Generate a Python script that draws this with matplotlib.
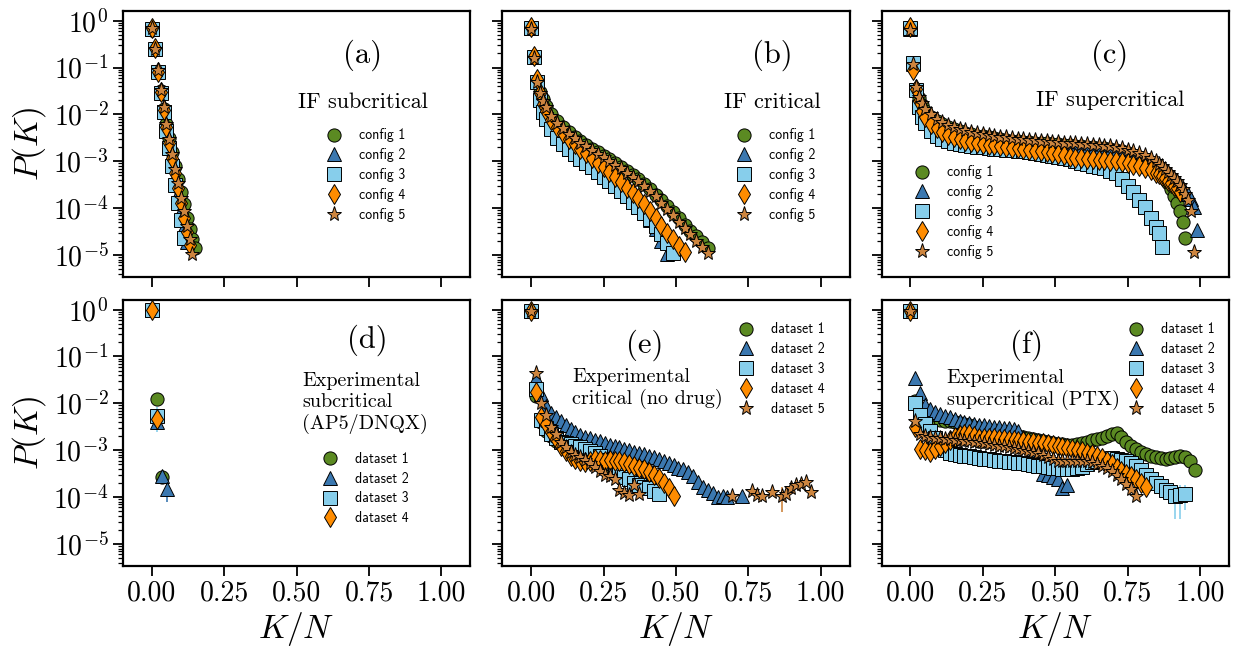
import numpy as np
import matplotlib
matplotlib.use("Agg")
import matplotlib.pyplot as plt
from matplotlib.ticker import LogLocator, FormatStrFormatter

plt.rcParams["font.family"] = "serif"
plt.rcParams["font.serif"] = ["cmr10"]
plt.rcParams["mathtext.fontset"] = "cm"
plt.rcParams["axes.formatter.use_mathtext"] = True

# dados (log10 de P(K))

# (a) IF subcritico
xa = [0.00, 0.01, 0.02, 0.03, 0.04, 0.05, 0.06, 0.07, 0.08, 0.09, 0.10, 0.11, 0.12, 0.13, 0.14, 0.15]
a1 = [-0.19, -0.60, -1.10, -1.50, -1.88, -2.20, -2.50, -2.80, -3.10, -3.38, -3.65, -3.92, -4.20, -4.45, -4.65, -4.85]
a2 = [-0.17, -0.60, -1.08, -1.50, -1.90, -2.28, -2.65, -3.00, -3.35, -3.70, -4.05, -4.40, -4.72]
a3 = [-0.18, -0.60, -1.10, -1.55, -1.95, -2.35, -2.72, -3.10, -3.50, -3.88, -4.25, -4.64]
a4 = [-0.16, -0.58, -1.10, -1.52, -1.90, -2.26, -2.60, -2.93, -3.25, -3.56, -3.88, -4.20, -4.50, -4.79]
a5 = [-0.16, -0.60, -1.05, -1.48, -1.85, -2.20, -2.52, -2.85, -3.17, -3.47, -3.78, -4.07, -4.38, -4.66, -4.97]

# (b) IF critico
xb = [0.00, 0.01, 0.02, 0.03, 0.04, 0.05,
      0.07, 0.09, 0.11, 0.13, 0.15, 0.17, 0.19, 0.21, 0.23, 0.25,
      0.27, 0.29, 0.31, 0.33, 0.35, 0.37, 0.39, 0.41, 0.43, 0.45,
      0.47, 0.49, 0.51, 0.53, 0.55, 0.57, 0.59, 0.61]
b1 = [-0.16, -0.78, -1.28, -1.52, -1.68, -1.82,
      -2.00, -2.15, -2.27, -2.38, -2.48, -2.57, -2.65, -2.73, -2.81, -2.88,
      -2.96, -3.04, -3.12, -3.20, -3.29, -3.38, -3.48, -3.59, -3.71, -3.83,
      -3.96, -4.09, -4.22, -4.36, -4.48, -4.60, -4.72, -4.84]
b2 = [-0.15, -0.76, -1.27, -1.66, -1.92, -2.08,
      -2.30, -2.48, -2.61, -2.73, -2.84, -2.94, -3.03, -3.12, -3.22, -3.32,
      -3.42, -3.52, -3.63, -3.74, -3.86, -3.98, -4.11, -4.25, -4.45, -4.70,
      -4.98]
b3 = [-0.16, -0.78, -1.30, -1.70, -1.95, -2.10,
      -2.32, -2.50, -2.63, -2.74, -2.85, -2.95, -3.04, -3.13, -3.23, -3.33,
      -3.43, -3.53, -3.64, -3.75, -3.86, -3.98, -4.10, -4.23, -4.38, -4.55,
      -4.75, -4.95]
b4 = [-0.14, -0.75, -1.25, -1.55, -1.78, -1.93,
      -2.12, -2.27, -2.40, -2.52, -2.63, -2.73, -2.83, -2.93, -3.03, -3.13,
      -3.23, -3.34, -3.45, -3.56, -3.67, -3.79, -3.91, -4.07, -4.22, -4.38,
      -4.54, -4.66, -4.80, -4.93]
b5 = [-0.18, -0.80, -1.30, -1.55, -1.71, -1.85,
      -2.03, -2.18, -2.30, -2.41, -2.51, -2.60, -2.68, -2.76, -2.84, -2.91,
      -2.99, -3.07, -3.15, -3.24, -3.33, -3.42, -3.52, -3.63, -3.75, -3.88,
      -4.01, -4.15, -4.29, -4.43, -4.56, -4.69, -4.82, -4.96]

# (c) IF supercritico
xc = [0.00, 0.01, 0.02, 0.03, 0.04, 0.05,
      0.07, 0.09, 0.11, 0.13, 0.15, 0.17, 0.19, 0.21, 0.23, 0.25,
      0.27, 0.29, 0.31, 0.33, 0.35, 0.37, 0.39, 0.41, 0.43, 0.45,
      0.47, 0.49, 0.51, 0.53, 0.55, 0.57, 0.59, 0.61, 0.63, 0.65,
      0.67, 0.69, 0.71, 0.73, 0.75, 0.77, 0.79, 0.81, 0.83, 0.85,
      0.86, 0.87, 0.88, 0.89, 0.90, 0.91, 0.92, 0.93, 0.94, 0.95, 0.96, 0.97, 0.98, 0.99]
c1 = [-0.16, -0.95, -1.45, -1.65, -1.80, -1.92,
      -2.05, -2.14, -2.21, -2.27, -2.32, -2.36, -2.39, -2.42, -2.45, -2.47,
      -2.49, -2.51, -2.53, -2.54, -2.56, -2.57, -2.58, -2.59, -2.60, -2.61,
      -2.62, -2.63, -2.64, -2.65, -2.66, -2.67, -2.68, -2.69, -2.70, -2.71,
      -2.72, -2.74, -2.76, -2.79, -2.82, -2.86, -2.91, -2.98, -3.06, -3.16,
      -3.22, -3.30, -3.38, -3.47, -3.60, -3.75, -3.88, -4.05, -4.30, -4.64]
c2 = [-0.17, -0.93, -1.44, -1.70, -1.86, -1.98,
      -2.10, -2.19, -2.26, -2.32, -2.37, -2.41, -2.44, -2.47, -2.50, -2.52,
      -2.54, -2.56, -2.58, -2.59, -2.61, -2.62, -2.63, -2.64, -2.65, -2.66,
      -2.67, -2.68, -2.69, -2.70, -2.71, -2.72, -2.73, -2.74, -2.75, -2.76,
      -2.77, -2.79, -2.81, -2.84, -2.88, -2.92, -2.97, -3.03, -3.09, -3.16,
      -3.20, -3.24, -3.28, -3.33, -3.38, -3.42, -3.47, -3.52, -3.57, -3.63, -3.70, -3.80, -3.97, -4.47]
c3 = [-0.16, -0.90, -1.47, -1.85, -2.05, -2.18,
      -2.35, -2.45, -2.52, -2.56, -2.60, -2.63, -2.65, -2.67, -2.69, -2.70,
      -2.72, -2.73, -2.74, -2.75, -2.76, -2.77, -2.79, -2.80, -2.82, -2.84,
      -2.86, -2.88, -2.90, -2.93, -2.96, -3.00, -3.03, -3.06, -3.09, -3.12,
      -3.15, -3.20, -3.26, -3.38, -3.52, -3.66, -3.82, -3.98, -4.20, -4.40,
      -4.52, -4.82]
c4 = [-0.14, -1.05, -1.45, -1.72, -1.92, -2.06,
      -2.20, -2.30, -2.38, -2.44, -2.49, -2.53, -2.56, -2.59, -2.61, -2.63,
      -2.65, -2.66, -2.68, -2.69, -2.71, -2.72, -2.74, -2.75, -2.77, -2.78,
      -2.80, -2.82, -2.84, -2.87, -2.90, -2.92, -2.94, -2.95, -2.96, -2.97,
      -2.98, -2.99, -3.00, -3.02, -3.04, -3.07, -3.10, -3.14, -3.19, -3.25,
      -3.28, -3.32, -3.36, -3.41, -3.46, -3.52, -3.58, -3.65]
c5 = [-0.20, -0.92, -1.42, -1.62, -1.76, -1.88,
      -2.00, -2.09, -2.16, -2.22, -2.27, -2.31, -2.34, -2.37, -2.40, -2.42,
      -2.44, -2.46, -2.48, -2.49, -2.51, -2.52, -2.53, -2.54, -2.55, -2.56,
      -2.57, -2.58, -2.59, -2.60, -2.61, -2.62, -2.63, -2.64, -2.65, -2.66,
      -2.67, -2.68, -2.70, -2.72, -2.75, -2.78, -2.82, -2.87, -2.93, -3.00,
      -3.05, -3.10, -3.16, -3.22, -3.29, -3.36, -3.43, -3.51, -3.60, -3.70, -3.82, -4.07, -4.93]

# experimentos: K/N com passo 1/59
xe = [0.000, 0.017, 0.034, 0.051, 0.068, 0.085, 0.102, 0.119, 0.136, 0.153,
      0.170, 0.186, 0.203, 0.220, 0.237, 0.254, 0.271, 0.288, 0.305, 0.322,
      0.339, 0.356, 0.373, 0.390, 0.407, 0.424, 0.441, 0.458, 0.475, 0.492,
      0.508, 0.525, 0.542, 0.559, 0.576, 0.593, 0.610, 0.627, 0.644, 0.661,
      0.678, 0.695, 0.712, 0.729, 0.746, 0.763, 0.780, 0.797, 0.814, 0.831,
      0.848, 0.865, 0.882, 0.898, 0.915, 0.932, 0.949, 0.966, 0.983]
nan = np.nan

# (d) experimental subcritico
d1 = [-0.01, -1.90, -3.58]
d2 = [-0.01, -2.40, -3.55, -3.83]
d3 = [-0.01, -2.26]
d4 = [-0.01, -2.33]
erros_d = [(2, 1, 3.0e-3), (1, 3, 7.0e-5)]  # (dataset, ponto, erro)

# (e) experimental critico
e1 = [-0.02, -1.85, -2.40, -2.58, -2.70, -2.80, -2.87, -2.92, -2.97, -3.00,
      -3.03, -3.07, -3.10, -3.15, -3.20, -3.26, -3.33, -3.40, -3.48, -3.55,
      -3.60, -3.65, -3.70, -3.75, -3.80]
e2 = [-0.02, -1.45, -1.80, -2.05, -2.20, -2.30, -2.38, -2.47, -2.55, -2.62,
      -2.67, -2.71, -2.74, -2.78, -2.81, -2.84, -2.88, -2.91, -2.94, -2.97,
      -3.00, -3.03, -3.06, -3.09, -3.12, -3.15, -3.19, -3.23, -3.28, -3.32,
      -3.37, -3.41, -3.47, -3.56, -3.68, -3.78, -3.85, -3.92, -4.00, -3.98,
      -3.99, nan, nan, -3.97]
e3 = [-0.02, -1.70, -2.35, -2.52, -2.65, -2.75, -2.82, -2.85, -2.87, -2.90,
      -2.94, -2.98, -3.02, -3.07, -3.12, -3.20, -3.28, -3.36, -3.45, -3.58,
      -3.62, -3.70, -3.74, -3.78, -3.80, -3.88, -3.93]
e4 = [-0.03, -1.75, -2.29, -2.45, -2.62, -2.76, -2.90, -3.02, -3.12, -3.18,
      -3.22, -3.26, -3.22, -3.18, -3.20, -3.22, -3.20, -3.22, -3.24, -3.26,
      -3.30, -3.33, -3.37, -3.41, -3.46, -3.52, -3.60, -3.70, -3.80, -3.97]
e5 = [-0.02, -1.35, -2.00, -2.25, -2.50, -2.66, -2.82, -2.93, -3.03, -3.10,
      -3.15, -3.20, -3.27, -3.35, -3.44, -3.53, -3.55, -3.62, -3.85, -3.92,
      -3.96, -3.75, -3.93, nan, nan, nan, nan, nan, nan, nan,
      nan, nan, nan, nan, nan, nan, nan, nan, nan, nan,
      nan, -3.97, nan, nan, nan, -3.87, -3.95, -3.97, nan, -3.90,
      nan, -3.97, -3.93, -3.80, -3.74, -3.72, -3.68, -3.90]
erros_e = [(4, 51, 6.0e-5)]

# (f) experimental supercritico (PTX)
f1 = [-0.02, -1.95, -2.22, -2.30, -2.33, -2.35, -2.36, -2.37, -2.38, -2.40,
      -2.42, -2.44, -2.47, -2.50, -2.53, -2.56, -2.58, -2.60, -2.62, -2.64,
      -2.66, -2.68, -2.70, -2.72, -2.74, -2.76, -2.78, -2.80, -2.82, -2.84,
      -2.86, -2.87, -2.88, -2.88, -2.87, -2.85, -2.82, -2.79, -2.76, -2.73,
      -2.69, -2.66, -2.64, -2.72, -2.83, -2.92, -2.98, -3.04, -3.08, -3.12,
      -3.15, -3.17, -3.18, -3.17, -3.15, -3.13, -3.14, -3.22, -3.43]
f2 = [-0.02, -1.47, -1.78, -2.03, -2.13, -2.19, -2.23, -2.26, -2.29, -2.33,
      -2.37, -2.40, -2.43, -2.45, -2.46, -2.47, -2.48, -2.50, -2.51, -2.52,
      -2.53, -2.55, -2.60, -2.72, -2.88, -3.05, -3.30, -3.50, -3.53, -3.57,
      -3.62, -3.80, -3.75]
f3 = [-0.02, -2.00, -2.25, -2.45, -2.60, -2.75, -2.88, -3.00, -3.05, -3.08,
      -3.10, -3.12, -3.13, -3.15, -3.16, -3.18, -3.19, -3.21, -3.22, -3.24,
      -3.25, -3.26, -3.27, -3.28, -3.30, -3.32, -3.33, -3.34, -3.36, -3.37,
      -3.39, -3.40, -3.41, -3.40, -3.38, -3.35, -3.30, -3.25, -3.22, -3.20,
      -3.18, -3.17, -3.18, -3.20, -3.24, -3.28, -3.33, -3.42, -3.52, -3.62,
      -3.70, -3.76, -3.84, -3.90, -3.98, -3.96, -3.93]
f4 = [-0.02, -2.50, -2.97, -3.00, -3.04, -2.98, -2.92, -2.85, -2.78, -2.72,
      -2.68, -2.65, -2.66, -2.70, -2.73, -2.74, -2.75, -2.75, -2.76, -2.77,
      -2.78, -2.79, -2.80, -2.81, -2.82, -2.83, -2.84, -2.85, -2.86, -2.88,
      -2.90, -2.93, -2.95, -2.97, -2.99, -3.02, -3.05, -3.08, -3.12, -3.17,
      -3.23, -3.30, -3.38, -3.44, -3.50, -3.56, -3.62, -3.70, -3.78]
f5 = [-0.02, -2.37, -2.65, -2.70, -2.72, -2.73, -2.75, -2.76, -2.77, -2.78,
      -2.79, -2.80, -2.81, -2.82, -2.83, -2.85, -2.87, -2.89, -2.90, -2.92,
      -2.94, -2.96, -2.98, -3.00, -3.02, -3.04, -3.07, -3.10, -3.14, -3.18,
      -3.22, -3.24, -3.24, -3.23, -3.22, -3.22, -3.23, -3.26, -3.30, -3.34,
      -3.38, -3.45, -3.52, -3.62, -3.72, -3.82, -3.97]
erros_f = [(2, 51, 2.5e-5), (2, 52, 4.0e-5), (2, 53, 5.5e-5), (2, 54, 7.0e-5),
           (2, 55, 7.5e-5), (2, 56, 6.5e-5)]

configs = ["config 1", "config 2", "config 3", "config 4", "config 5"]
datasets = ["dataset 1", "dataset 2", "dataset 3", "dataset 4", "dataset 5"]

cores = ["#5b8a22", "#3b78b0", "#87ceeb", "#ff8c00", "#cd853f"]
marcadores = ["o", "^", "s", "d", "*"]
tamanhos = [9.5, 9.5, 9.5, 10.5, 11]


def painel(ax, x, series, rotulos, erros=()):
    for (i, j, e) in erros:
        y = 10.0 ** series[i][j]
        ax.errorbar([x[j]], [y], yerr=[e], fmt="none", ecolor=cores[i],
                    elinewidth=1.2, capsize=0, zorder=1)
    for i, s in enumerate(series):
        ax.plot(x[:len(s)], 10.0 ** np.array(s), linestyle="none",
                marker=marcadores[i], ms=tamanhos[i], mfc=cores[i],
                mec="k", mew=0.7, label=rotulos[i], zorder=2 + i)


fig, axs = plt.subplots(2, 3, figsize=(12.4, 6.52), dpi=100)
fig.subplots_adjust(left=0.0992, right=0.991, top=0.983, bottom=0.132,
                    wspace=0.092, hspace=0.0865)

painel(axs[0, 0], xa, [a1, a2, a3, a4, a5], configs)
painel(axs[0, 1], xb, [b1, b2, b3, b4, b5], configs)
painel(axs[0, 2], xc, [c1, c2, c3, c4, c5], configs)
painel(axs[1, 0], xe, [d1, d2, d3, d4], datasets, erros_d)
painel(axs[1, 1], xe, [e1, e2, e3, e4, e5], datasets, erros_e)
painel(axs[1, 2], xe, [f1, f2, f3, f4, f5], datasets, erros_f)

for lin in range(2):
    for col in range(3):
        ax = axs[lin, col]
        ax.set_yscale("log")
        ax.set_ylim(3.4e-6, 1.6)
        ax.set_xlim(-0.1, 1.1)
        ax.set_xticks([0.0, 0.25, 0.5, 0.75, 1.0])
        ax.xaxis.set_major_formatter(FormatStrFormatter("%.2f"))
        ax.yaxis.set_major_locator(LogLocator(base=10, numticks=20))
        ax.yaxis.set_minor_locator(LogLocator(base=10, subs=np.arange(2, 10), numticks=20))
        ax.tick_params(which="major", direction="out", length=7, width=1.3, labelsize=20)
        ax.tick_params(which="minor", direction="out", length=3.5, width=0.9)
        for sp in ax.spines.values():
            sp.set_linewidth(1.6)
        if lin == 0:
            ax.tick_params(labelbottom=False)
        else:
            ax.set_xlabel(r"$K/N$", fontsize=24, labelpad=2)
        if col > 0:
            ax.tick_params(labelleft=False)
        else:
            ax.set_ylabel(r"$P(K)$", fontsize=24, labelpad=4)

leg = dict(frameon=False, prop={"family": "cmss10", "size": 10}, labelspacing=0.42,
           handletextpad=0.8, borderpad=0.2)

ax = axs[0, 0]
ax.text(0.69, 0.835, "(a)", transform=ax.transAxes, fontsize=22, ha="center", va="center")
ax.text(0.69, 0.658, "IF subcritical", transform=ax.transAxes, fontsize=16, ha="center", va="center")
ax.legend(loc="center", bbox_to_anchor=(0.69, 0.383), **leg)

ax = axs[0, 1]
ax.text(0.778, 0.835, "(b)", transform=ax.transAxes, fontsize=22, ha="center", va="center")
ax.text(0.778, 0.658, "IF critical", transform=ax.transAxes, fontsize=16, ha="center", va="center")
ax.legend(loc="center", bbox_to_anchor=(0.778, 0.383), **leg)

ax = axs[0, 2]
ax.text(0.657, 0.835, "(c)", transform=ax.transAxes, fontsize=22, ha="center", va="center")
ax.text(0.657, 0.665, "IF supercritical", transform=ax.transAxes, fontsize=16, ha="center", va="center")
ax.legend(loc="center", bbox_to_anchor=(0.2, 0.244), **leg)

ax = axs[1, 0]
ax.text(0.704, 0.85, "(d)", transform=ax.transAxes, fontsize=22, ha="center", va="center")
ax.text(0.516, 0.613, "Experimental\nsubcritical\n(AP5/DNQX)", transform=ax.transAxes,
        fontsize=14.5, ha="left", va="center")
ax.legend(loc="center", bbox_to_anchor=(0.69, 0.291), **leg)

ax = axs[1, 1]
ax.text(0.409, 0.831, "(e)", transform=ax.transAxes, fontsize=22, ha="center", va="center")
ax.text(0.201, 0.668, "Experimental\ncritical (no drug)", transform=ax.transAxes,
        fontsize=14.5, ha="left", va="center")
ax.legend(loc="center", bbox_to_anchor=(0.795, 0.74), **leg)

ax = axs[1, 2]
ax.text(0.417, 0.831, "(f)", transform=ax.transAxes, fontsize=22, ha="center", va="center")
ax.text(0.188, 0.665, "Experimental\nsupercritical (PTX)", transform=ax.transAxes,
        fontsize=14.5, ha="left", va="center")
ax.legend(loc="center", bbox_to_anchor=(0.826, 0.74), **leg)

plt.savefig("out.png", dpi=100)
